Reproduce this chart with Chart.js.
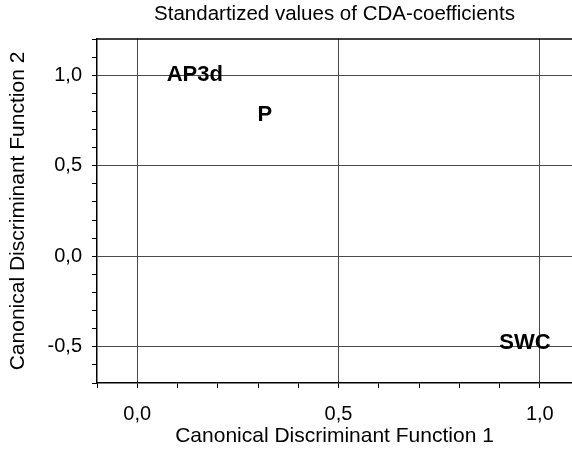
<!DOCTYPE html>
<html>
<head>
<meta charset="utf-8">
<script src="https://cdn.jsdelivr.net/npm/chart.js@4/dist/chart.umd.min.js"></script>
<style>
  html, body { margin: 0; padding: 0; background: #fff; }
  #wrap { width: 572px; height: 463px; }
</style>
</head>
<body>
<div id="wrap"><canvas id="cda" width="572" height="463"></canvas></div>
<script>
// CDA coefficients (standardized)
const varNames = ['AP3d', 'P', 'SWC'];
const func1 = [0.143, 0.317, 0.963];
const func2 = [1.0, 0.78, -0.48];

const xRange = [-0.1, 1.08];
const yRange = [-0.7, 1.2];
const xTicks = [-0.1, 0, 0.1, 0.2, 0.3, 0.4, 0.5, 0.6, 0.7, 0.8, 0.9, 1.0];
const yTicks = [-0.7, -0.6, -0.5, -0.4, -0.3, -0.2, -0.1, 0, 0.1, 0.2, 0.3, 0.4, 0.5, 0.6, 0.7, 0.8, 0.9, 1.0, 1.1, 1.2];

const FONT = "'Liberation Sans', Arial, sans-serif";

function isMajor(v) {
  return Math.abs(v * 2 - Math.round(v * 2)) < 1e-6;
}
function fmt(v) {
  return v.toFixed(1).replace('.', ',');
}

// draws the variable names where the points are
const nameLabels = {
  id: 'nameLabels',
  afterDatasetsDraw(chart) {
    const ctx = chart.ctx;
    const meta = chart.getDatasetMeta(0);
    ctx.save();
    ctx.font = "bold 22px " + FONT;
    ctx.fillStyle = '#000';
    ctx.textAlign = 'center';
    ctx.textBaseline = 'middle';
    meta.data.forEach((pt, i) => {
      ctx.fillText(varNames[i], pt.x, pt.y);
    });
    ctx.restore();
  }
};

// top frame line
const topLine = {
  id: 'topLine',
  afterDraw(chart) {
    const a = chart.chartArea;
    const ctx = chart.ctx;
    ctx.save();
    ctx.strokeStyle = '#000';
    ctx.lineWidth = 1.5;
    ctx.beginPath();
    ctx.moveTo(a.left, a.top);
    ctx.lineTo(a.right, a.top);
    ctx.stroke();
    ctx.restore();
  }
};

const points = func1.map((x, i) => ({ x: x, y: func2[i] }));

new Chart(document.getElementById('cda'), {
  type: 'scatter',
  data: {
    datasets: [{
      data: points,
      pointRadius: 0,
      pointHoverRadius: 0
    }]
  },
  options: {
    responsive: false,
    animation: false,
    layout: { padding: 0 },
    plugins: {
      legend: { display: false },
      tooltip: { enabled: false },
      title: {
        display: true,
        fullSize: false,
        text: 'Standartized values of CDA-coefficients',
        color: '#000',
        font: { family: FONT, size: 20.5, weight: 'normal' },
        padding: { top: 2, bottom: 12.4 }
      }
    },
    scales: {
      x: {
        type: 'linear',
        min: xRange[0],
        max: xRange[1],
        afterBuildTicks: s => { s.ticks = xTicks.map(v => ({ value: v })); },
        afterFit: s => { s.height = 80; s.paddingLeft = 0; s.paddingRight = 0; },
        border: { color: '#000', width: 1.5 },
        grid: {
          color: c => isMajor(c.tick.value) ? '#4a4a4a' : 'rgba(0,0,0,0)',
          tickColor: '#000',
          tickLength: 5,
          lineWidth: 1
        },
        ticks: {
          autoSkip: false,
          maxRotation: 0,
          padding: 14,
          color: '#000',
          font: { family: FONT, size: 20 },
          callback: v => isMajor(v) ? fmt(v) : ''
        },
        title: {
          display: true,
          text: 'Canonical Discriminant Function 1',
          color: '#000',
          font: { family: FONT, size: 21 },
          padding: { top: 0, bottom: 14 }
        }
      },
      y: {
        type: 'linear',
        min: yRange[0],
        max: yRange[1],
        afterBuildTicks: s => { s.ticks = yTicks.map(v => ({ value: v })); },
        afterFit: s => { s.width = 97; s.paddingTop = 0; s.paddingBottom = 0; },
        border: { color: '#000', width: 1.5 },
        grid: {
          color: c => isMajor(c.tick.value) ? '#4a4a4a' : 'rgba(0,0,0,0)',
          tickColor: '#000',
          tickLength: 5,
          lineWidth: 1
        },
        ticks: {
          autoSkip: false,
          padding: 10,
          color: '#000',
          font: { family: FONT, size: 20 },
          callback: v => isMajor(v) ? fmt(v) : ''
        },
        title: {
          display: true,
          text: 'Canonical Discriminant Function 2',
          color: '#000',
          font: { family: FONT, size: 21 },
          padding: { top: 6, bottom: 0 }
        }
      }
    }
  },
  plugins: [nameLabels, topLine]
});
</script>
</body>
</html>
